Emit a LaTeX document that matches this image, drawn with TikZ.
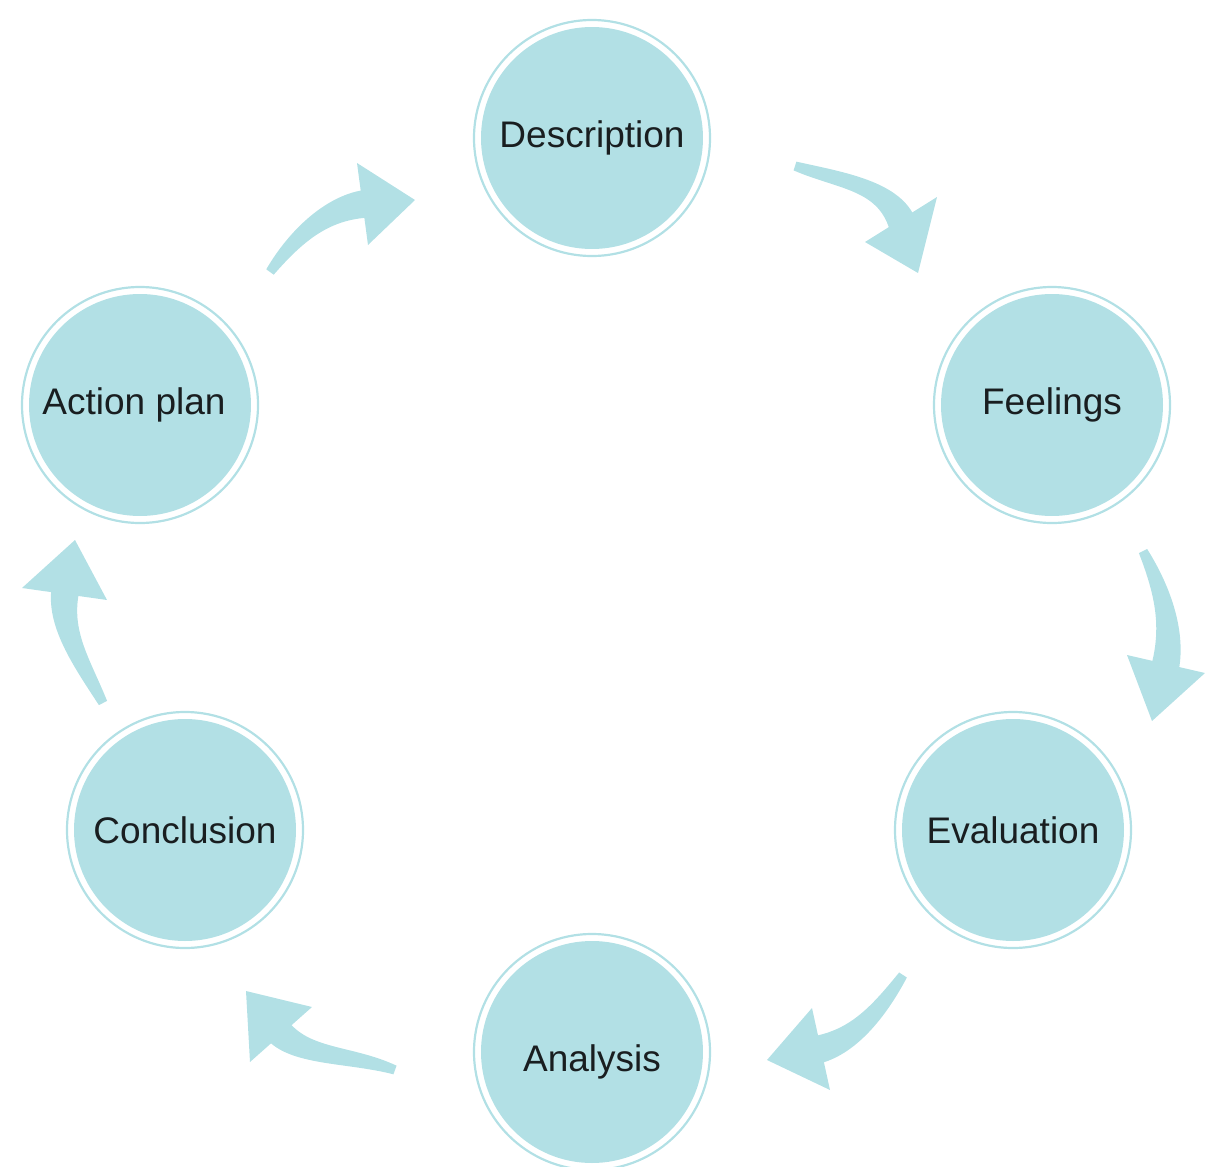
\documentclass[tikz,border=0pt]{standalone}
\usepackage{fontspec}
\setmainfont{Liberation Sans}
\usetikzlibrary{calc}
\definecolor{teal1}{RGB}{178,224,229}
\definecolor{txt}{RGB}{25,30,32}
\tikzset{
  stagetext/.style={text=txt, font=\fontsize{18.5}{22}\selectfont, inner sep=0pt},
  stage/.style={circle, fill=teal1, draw=none, minimum size=111pt, inner sep=0pt, stagetext},
  ring/.style={draw=teal1, line width=1.1pt},
  arrowfill/.style={fill=teal1, draw=none},
}
% #1 tail, #2 tail control, #3 head control, #4 barb, #5 tip, #6 barb
\newcommand\cycarrow[6]{%
  \coordinate (aT) at #1; \coordinate (aCT) at #2; \coordinate (aCH) at #3;
  \coordinate (aL) at #4; \coordinate (aP) at #5; \coordinate (aR) at #6;
  \coordinate (aB0) at ($(aL)!0.5!(aR)$);
  \coordinate (aB) at ($(aB0)!-3pt!(aCH)$);
  \fill[arrowfill] ($(aT)!2.3pt!90:(aCT)$) .. controls ($(aCT)!4.5pt!-90:(aT)$) and ($(aCH)!6.5pt!90:(aB)$) .. ($(aB)!7pt!-90:(aCH)$)
    -- ($(aB)!7pt!90:(aCH)$) .. controls ($(aCH)!6.5pt!-90:(aB)$) and ($(aCT)!4.5pt!90:(aT)$) .. ($(aT)!2.3pt!-90:(aCT)$) -- cycle;
  \fill[arrowfill] (aL) -- (aP) -- (aR) -- cycle;
}
\begin{document}
\begin{tikzpicture}[x=0.5pt, y=-0.5pt]
\useasboundingbox (0,0) rectangle (1206,1167);
\node[stage] (desc) at (592,138) {Description};
\node[stage] (feel) at (1052,405) {Feelings};
\node[stage] (eval) at (1013,830) {Evaluation};
\node[stage, label={[stagetext, yshift=-5pt]center:Analysis}] (anal) at (592,1052) {};
\node[stage] (conc) at (185,830) {Conclusion};
\node[stage] (act) at (140,405) {\hspace*{-6pt}Action plan};
\foreach \n in {desc,feel,eval,anal,conc,act}
  \draw[ring] (\n.center) circle[radius=59pt];
% Description -> Feelings
\cycarrow{(795,166)}{(840,180.7)}{(890,185)}{(865,242)}{(918,273)}{(937,197)}
% Feelings -> Evaluation
\cycarrow{(1143,551)}{(1163.6,592)}{(1174.2,630.5)}{(1127,655)}{(1152,721)}{(1205,673)}
% Evaluation -> Analysis
\cycarrow{(903,975)}{(878.7,1011.7)}{(853.3,1042.4)}{(812,1008)}{(767,1060)}{(830,1090)}
% Analysis -> Conclusion
\cycarrow{(395,1070)}{(349.9,1053.7)}{(299.8,1057.9)}{(312,1007)}{(246,991)}{(250,1062)}
% Conclusion -> Action plan
\cycarrow{(103,703)}{(81.7,662.2)}{(57.8,628.4)}{(22,588)}{(75,540)}{(107,600)}
% Action plan -> Description
\cycarrow{(270,272)}{(296.8,234.6)}{(328.6,206.6)}{(357,163)}{(415,200)}{(368,245)}
\end{tikzpicture}
\end{document}
